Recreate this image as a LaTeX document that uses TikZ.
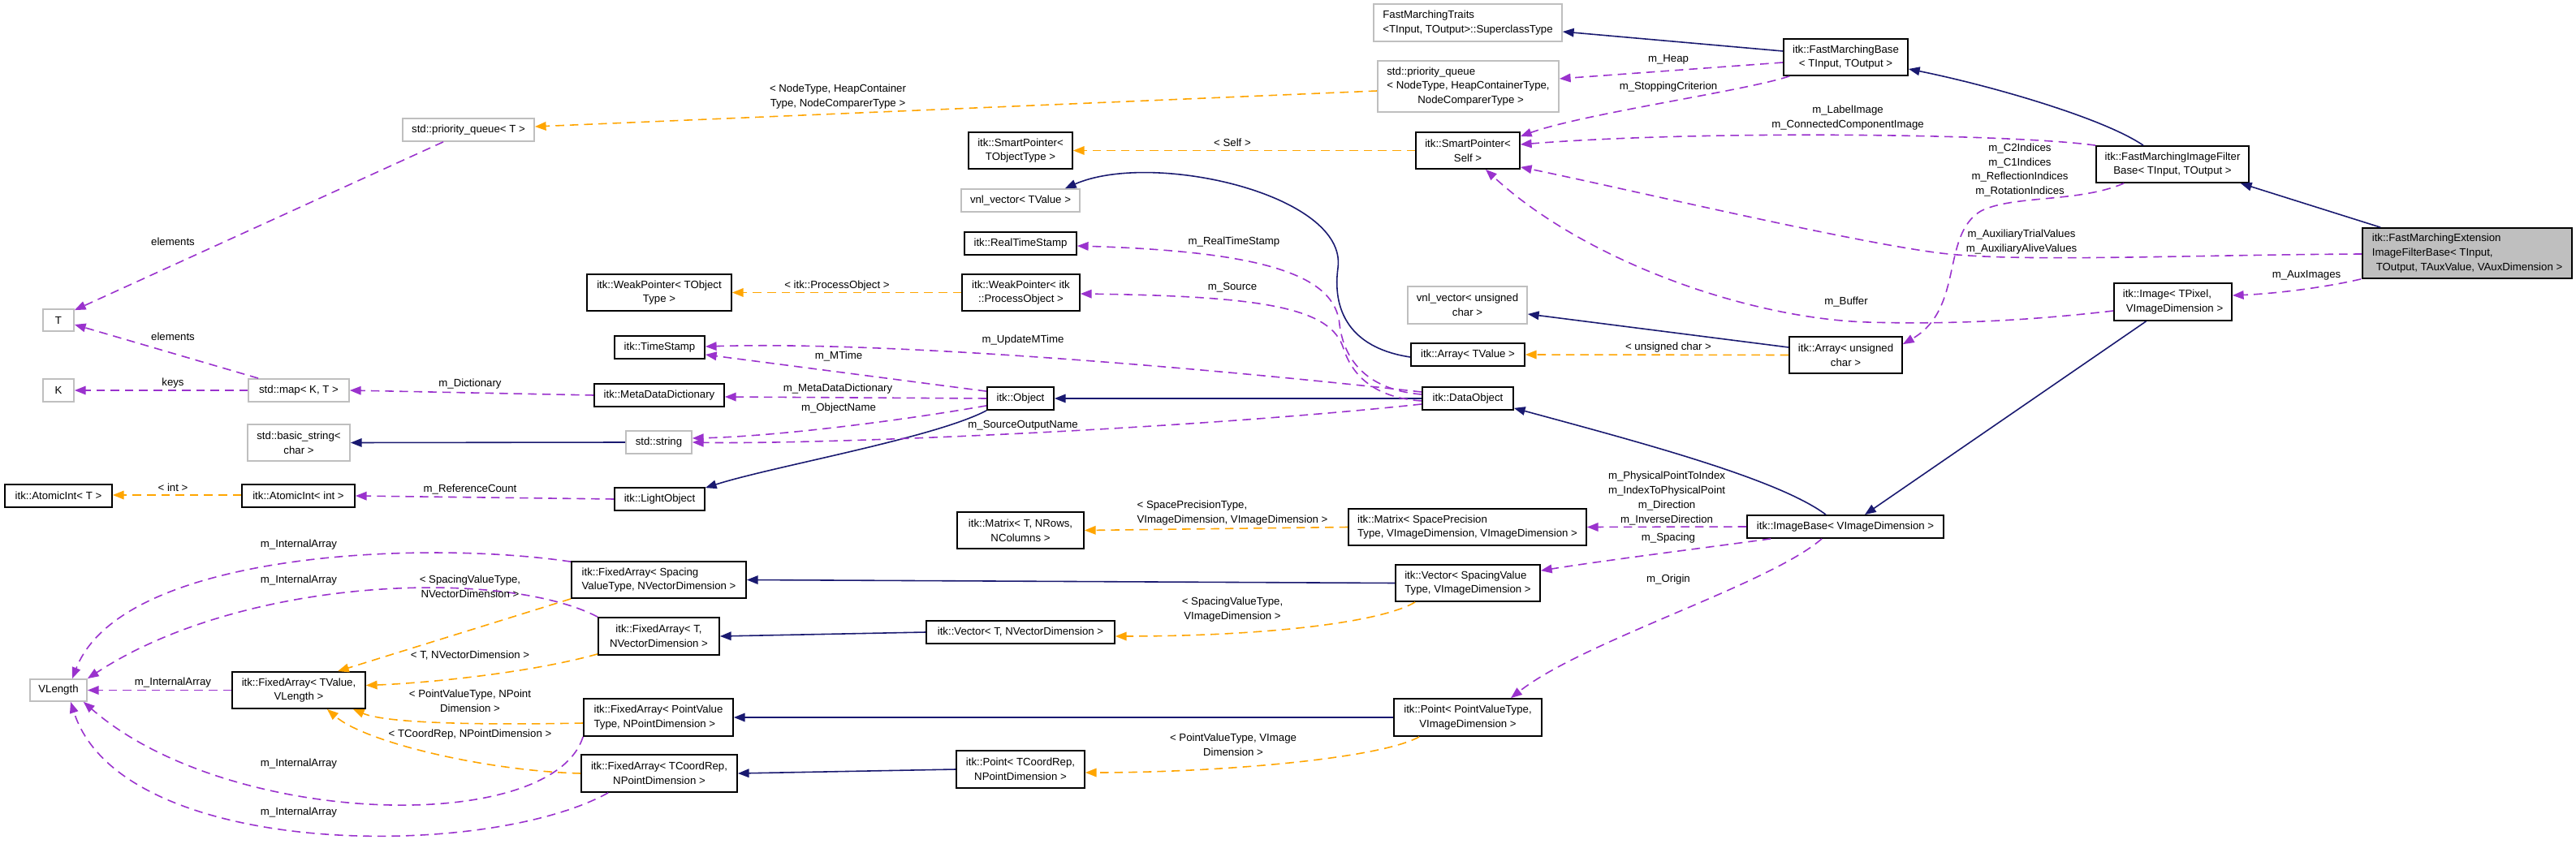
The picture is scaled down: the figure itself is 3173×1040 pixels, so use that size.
\documentclass[tikz,border=0pt]{standalone}
\usepackage{fontspec}
\setmainfont{Liberation Sans}
\usetikzlibrary{arrows.meta,calc}
\definecolor{navyc}{HTML}{191970}
\definecolor{orangec}{HTML}{FFA500}
\definecolor{purplec}{HTML}{9A32CD}
\definecolor{grayb}{HTML}{BFBFBF}
\newcommand\mkbox[7][]{\node[cbox,#1,minimum width={(#5-#3)*0.01cm},minimum height={(#6-#4)*0.01cm}] (#2) at ({(#3+#5)/2},{(#4+#6)/2}) {#7};}
\begin{document}
\begin{tikzpicture}[x=0.01cm,y=-0.01cm,
 every node/.style={font=\fontsize{3.76}{5.06}\selectfont},
 cbox/.style={draw=black,line width=0.5pt,inner sep=0pt,align=center},
 gbox/.style={draw=grayb},
 lbox/.style={align=left},
 lbl/.style={inner sep=0pt,align=center},
 inhedge/.style={draw=navyc,line width=0.45pt,-{Triangle[length=3.9pt,width=3pt]}},
 tmpledge/.style={draw=orangec,line width=0.45pt,dash pattern=on 3pt off 2pt,-{Triangle[length=3.9pt,width=3pt]}},
 useedge/.style={draw=purplec,line width=0.45pt,dash pattern=on 3pt off 2pt,-{Triangle[length=3.9pt,width=3pt]}}]
\fill[white] (0,0) rectangle (3173,1040);
\path[use as bounding box] (0,0) rectangle (3173,1040);

% nodes
\mkbox[gbox,lbox]{traits}{1692}{5}{1924}{51}{FastMarchingTraits\\<TInput, TOutput>::SuperclassType}
\mkbox{fmb}{2197}{48}{2350}{93}{itk::FastMarchingBase\\< TInput, TOutput >}
\mkbox[gbox,lbox]{pqnode}{1697}{75}{1920}{138}{std::priority\_queue\\< NodeType, HeapContainerType,\\\hspace*{0.38cm}NodeComparerType >}
\mkbox[gbox]{pqT}{496}{146}{658}{174}{std::priority\_queue< T >}
\mkbox{spself}{1744}{163}{1872}{208}{itk::SmartPointer<\\Self >}
\mkbox{spobj}{1193}{163}{1321}{208}{itk::SmartPointer<\\TObjectType >}
\mkbox{fmifb}{2582}{180}{2770}{225}{itk::FastMarchingImageFilter\\Base< TInput, TOutput >}
\mkbox[lbox,fill=grayb]{ext}{2910}{281}{3168}{343}{itk::FastMarchingExtension\\ImageFilterBase< TInput,\\\hspace*{0.05cm}TOutput, TAuxValue, VAuxDimension >}
\mkbox[gbox]{vnlT}{1184}{233}{1330}{261}{vnl\_vector< TValue >}
\mkbox{rts}{1188}{286}{1326}{314}{itk::RealTimeStamp}
\mkbox{wppo}{1185}{338}{1330}{383}{itk::WeakPointer< itk\\::ProcessObject >}
\mkbox{wpobj}{723}{338}{901}{383}{itk::WeakPointer< TObject\\Type >}
\mkbox[gbox]{T}{53}{381}{91}{408}{T}
\mkbox[gbox]{vnluc}{1734}{353}{1881}{399}{vnl\_vector< unsigned\\char >}
\mkbox[lbox]{image}{2604}{349}{2749}{395}{itk::Image< TPixel,\\\hspace*{0.04cm}VImageDimension >}
\mkbox{arrT}{1738}{423}{1878}{451}{itk::Array< TValue >}
\mkbox{arruc}{2204}{415}{2343}{460}{itk::Array< unsigned\\char >}
\mkbox{ts}{757}{414}{868}{442}{itk::TimeStamp}
\mkbox[gbox]{K}{53}{467}{91}{495}{K}
\mkbox[gbox]{map}{306}{467}{430}{495}{std::map< K, T >}
\mkbox{mdd}{732}{473}{892}{501}{itk::MetaDataDictionary}
\mkbox{obj}{1216}{477}{1298}{505}{itk::Object}
\mkbox{dobj}{1752}{477}{1864}{505}{itk::DataObject}
\mkbox[gbox]{bstr}{305}{523}{431}{568}{std::basic\_string<\\char >}
\mkbox[gbox]{str}{771}{531}{852}{559}{std::string}
\mkbox{aiT}{6}{597}{138}{625}{itk::AtomicInt< T >}
\mkbox{aiint}{298}{597}{437}{625}{itk::AtomicInt< int >}
\mkbox{lobj}{757}{601}{868}{629}{itk::LightObject}
\mkbox{matT}{1179}{631}{1335}{676}{itk::Matrix< T, NRows,\\NColumns >}
\mkbox[lbox]{matSP}{1661}{627}{1954}{672}{itk::Matrix< SpacePrecision\\Type, VImageDimension, VImageDimension >}
\mkbox{ibase}{2152}{635}{2394}{663}{itk::ImageBase< VImageDimension >}
\mkbox[lbox]{faSp}{704}{692}{919}{737}{itk::FixedArray< Spacing\\ValueType, NVectorDimension >}
\mkbox[lbox]{vecSp}{1719}{696}{1897}{741}{itk::Vector< SpacingValue\\Type, VImageDimension >}
\mkbox{faTN}{737}{761}{886}{807}{itk::FixedArray< T,\\NVectorDimension >}
\mkbox{vecTN}{1141}{765}{1373}{793}{itk::Vector< T, NVectorDimension >}
\mkbox[gbox]{vlen}{37}{837}{107}{864}{VLength}
\mkbox{faTV}{286}{828}{450}{873}{itk::FixedArray< TValue,\\VLength >}
\mkbox[lbox]{faPV}{719}{861}{903}{907}{itk::FixedArray< PointValue\\Type, NPointDimension >}
\mkbox{ptPV}{1717}{861}{1899}{907}{itk::Point< PointValueType,\\VImageDimension >}
\mkbox{faTC}{716}{930}{908}{976}{itk::FixedArray< TCoordRep,\\NPointDimension >}
\mkbox{ptTC}{1178}{925}{1336}{971}{itk::Point< TCoordRep,\\NPointDimension >}

% inheritance edges
\draw[inhedge] ($(fmb.west)+(0,-7.5)$) -- ($(traits.east)+(0,11)$);
\draw[inhedge] ($(fmifb.north)+(-36,0)$) .. controls (2590,145) and (2450,105) .. ($(fmb.east)+(0,14.5)$);
\draw[inhedge] ($(ext.north west)+(23,0)$) -- ($(fmifb.south east)+(-11,0)$);
\draw[inhedge] ($(image.south)+(-33,0)$) -- ($(ibase.north)+(24,0)$);
\draw[inhedge] ($(ibase.north)+(-24,0)$) .. controls (2190,590) and (2020,545) .. ($(dobj.south east)+(0,-3)$);
\draw[inhedge] (dobj.west) -- (obj.east);
\draw[inhedge] (obj.south west) .. controls (1150,540) and (950,575) .. ($(lobj.north east)+(0,1)$);
\draw[inhedge] (str.west) -- (bstr.east);
\draw[inhedge] ($(arrT.west)+(0,3)$) .. controls (1670,430) and (1640,390) .. (1648,330) .. controls (1660,240) and (1420,185) .. ($(vnlT.north east)+(-19,0)$);
\draw[inhedge] ($(arruc.west)+(0,-9.5)$) -- ($(vnluc.east)+(0,11)$);
\draw[inhedge] (vecSp.west) -- (faSp.east);
\draw[inhedge] (vecTN.west) -- (faTN.east);
\draw[inhedge] (ptPV.west) -- (faPV.east);
\draw[inhedge] (ptTC.west) -- (faTC.east);

% template edges
\draw[tmpledge] ($(pqnode.west)+(0,5.5)$) -- ($(pqT.east)+(0,-4)$);
\draw[tmpledge] (spself.west) -- (spobj.east);
\draw[tmpledge] (wppo.west) -- (wpobj.east);
\draw[tmpledge] (arruc.west) -- (arrT.east);
\draw[tmpledge] ($(aiint.west)+(0,-1)$) -- ($(aiT.east)+(0,-1)$);
\draw[tmpledge] (matSP.west) -- (matT.east);
\draw[tmpledge] (faSp.south west) -- ($(faTV.north)+(48,0)$);
\draw[tmpledge] ($(faTN.south west)+(0,-2)$) .. controls (650,830) and (520,842) .. ($(faTV.east)+(0,-6)$);
\draw[tmpledge] ($(faPV.west)+(0,7)$) .. controls (620,893) and (480,893) .. ($(faTV.south east)+(-16,0)$);
\draw[tmpledge] (faTC.west) .. controls (600,950) and (450,915) .. ($(faTV.south)+(35,0)$);
\draw[tmpledge] ($(vecSp.south west)+(25,0)$) .. controls (1700,768) and (1550,784) .. ($(vecTN.east)+(0,5)$);
\draw[tmpledge] ($(ptPV.south west)+(32,0)$) .. controls (1700,935) and (1500,952) .. ($(ptTC.east)+(0,4)$);

% usage edges
\draw[useedge] ($(fmb.west)+(0,6.5)$) -- ($(pqnode.east)+(0,-9.5)$);
\draw[useedge] ($(fmb.south west)+(8,0)$) .. controls (2150,112) and (1950,140) .. ($(spself.east)+(0,-17.5)$);
\draw[useedge] (fmifb.north west) .. controls (2480,165) and (2100,160) .. ($(spself.east)+(0,-7.5)$);
\draw[useedge] ($(ext.west)+(0,1)$) .. controls (2700,314) and (2500,323) .. (2400,313) .. controls (2300,303) and (2000,232) .. ($(spself.south east)+(0,-3)$);
\draw[useedge] ($(image.west)+(0,11)$) .. controls (2500,395) and (2400,400) .. (2300,397) .. controls (2150,392) and (1950,320) .. ($(spself.south)+(22,0)$);
\draw[useedge] ($(fmifb.south west)+(35,0)$) .. controls (2560,250) and (2480,240) .. (2440,260) .. controls (2390,290) and (2420,380) .. ($(arruc.north east)+(0,10)$);
\draw[useedge] ($(ext.south west)+(-1,0)$) .. controls (2860,355) and (2800,362) .. ($(image.east)+(0,-8)$);
\draw[useedge] ($(dobj.west)+(0,-5)$) .. controls (1680,480) and (1655,440) .. (1650,400) .. controls (1645,340) and (1560,310) .. ($(rts.east)+(0,3)$);
\draw[useedge] ($(dobj.west)+(0,3)$) .. controls (1690,490) and (1665,460) .. (1655,430) .. controls (1640,380) and (1560,365) .. ($(wppo.east)+(0,1.5)$);
\draw[useedge] ($(dobj.west)+(0,-8)$) .. controls (1500,455) and (1100,420) .. ($(ts.east)+(0,-1)$);
\draw[useedge] ($(obj.north west)+(0,6)$) -- ($(ts.east)+(0,9)$);
\draw[useedge] (obj.west) -- ($(mdd.east)+(0,2)$);
\draw[useedge] ($(obj.south west)+(0,-6)$) .. controls (1100,520) and (950,538) .. ($(str.east)+(0,-5)$);
\draw[useedge] ($(dobj.west)+(0,7)$) .. controls (1450,530) and (1000,548) .. (str.east);
\draw[useedge] (mdd.west) -- (map.east);
\draw[useedge] (map.west) -- (K.east);
\draw[useedge] ($(map.north west)+(13,0)$) -- ($(T.east)+(0,5.5)$);
\draw[useedge] ($(pqT.south)+(-31,0)$) -- ($(T.north east)+(0,2)$);
\draw[useedge] (lobj.west) -- (aiint.east);
\draw[useedge] (ibase.west) -- (matSP.east);
\draw[useedge] ($(ibase.south west)+(30,0)$) .. controls (2100,675) and (1980,690) .. ($(vecSp.north east)+(0,8)$);
\draw[useedge] ($(ibase.south)+(-29,0)$) .. controls (2180,720) and (1950,790) .. ($(ptPV.north)+(53,0)$);
\draw[useedge] (faTV.west) -- (vlen.east);
\draw[useedge] ($(faSp.north west)+(0,1)$) .. controls (520,665) and (150,680) .. ($(vlen.north)+(17,0)$);
\draw[useedge] (faTN.north west) .. controls (620,700) and (300,710) .. ($(vlen.north east)+(0,0)$);
\draw[useedge] (faPV.south west) .. controls (680,1030) and (280,1020) .. ($(vlen.south east)+(-5,0)$);
\draw[useedge] ($(faTC.south west)+(34,0)$) .. controls (600,1060) and (150,1060) .. ($(vlen.south)+(15,0)$);

% edge labels
\node[lbl] (l1) at (1032,119) {< NodeType, HeapContainer\\Type, NodeComparerType >};
\node[lbl] (l2) at (1518,176) {< Self >};
\node[lbl] (l3) at (1520,298) {m\_RealTimeStamp};
\node[lbl] (l4) at (1031,352) {< itk::ProcessObject >};
\node[lbl] (l5) at (1518,354) {m\_Source};
\node[lbl] (l6) at (2055,73) {m\_Heap};
\node[lbl] (l7) at (2055,107) {m\_StoppingCriterion};
\node[lbl] (l8) at (2276,145) {m\_LabelImage\\m\_ConnectedComponentImage};
\node[lbl] (l9) at (2488,209.5) {m\_C2Indices\\m\_C1Indices\\m\_ReflectionIndices\\m\_RotationIndices};
\node[lbl] (l10) at (2490,298) {m\_AuxiliaryTrialValues\\m\_AuxiliaryAliveValues};
\node[lbl] (l11) at (2841,339) {m\_AuxImages};
\node[lbl] (l12) at (213,298) {elements};
\node[lbl] (l13) at (213,415) {elements};
\node[lbl] (l14) at (213,472) {keys};
\node[lbl] (l15) at (579,473) {m\_Dictionary};
\node[lbl] (l16) at (213,601) {< int >};
\node[lbl] (l17) at (579,603) {m\_ReferenceCount};
\node[lbl] (l18) at (368,671) {m\_InternalArray};
\node[lbl] (l19) at (1260,419) {m\_UpdateMTime};
\node[lbl] (l20) at (1033,439) {m\_MTime};
\node[lbl] (l21) at (1032,479) {m\_MetaDataDictionary};
\node[lbl] (l22) at (1033,503) {m\_ObjectName};
\node[lbl] (l23) at (1260,524) {m\_SourceOutputName};
\node[lbl,align=left] (l24) at (1518,632) {< SpacePrecisionType,\\VImageDimension, VImageDimension >};
\node[lbl] (l25) at (2055,428) {< unsigned char >};
\node[lbl] (l26) at (2274,372) {m\_Buffer};
\node[lbl] (l27) at (2053,614) {m\_PhysicalPointToIndex\\m\_IndexToPhysicalPoint\\m\_Direction\\m\_InverseDirection};
\node[lbl] (l28) at (2055,663) {m\_Spacing};
\node[lbl] (l29) at (2055,714) {m\_Origin};
\node[lbl] (l30) at (368,715) {m\_InternalArray};
\node[lbl] (l31) at (579,723) {< SpacingValueType,\\NVectorDimension >};
\node[lbl] (l32) at (579,808) {< T, NVectorDimension >};
\node[lbl] (l33) at (213,841) {m\_InternalArray};
\node[lbl] (l34) at (579,864) {< PointValueType, NPoint\\Dimension >};
\node[lbl] (l35) at (579,905) {< TCoordRep, NPointDimension >};
\node[lbl] (l36) at (368,941) {m\_InternalArray};
\node[lbl] (l37) at (368,1001) {m\_InternalArray};
\node[lbl] (l38) at (1518,751) {< SpacingValueType,\\VImageDimension >};
\node[lbl] (l39) at (1519,918) {< PointValueType, VImage\\Dimension >};
\end{tikzpicture}
\end{document}
